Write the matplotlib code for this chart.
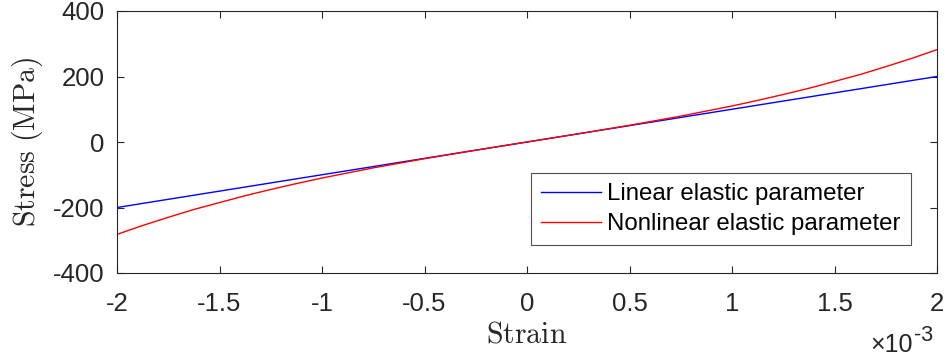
import matplotlib
matplotlib.use('Agg')
import matplotlib.pyplot as plt
import numpy as np

# strain (absolute) and stress in MPa
strain = [-2e-3, -1.875e-3, -1.75e-3, -1.625e-3, -1.5e-3, -1.375e-3, -1.25e-3, -1.125e-3,
          -1e-3, -0.75e-3, -0.5e-3, -0.25e-3, 0.0, 0.25e-3, 0.5e-3, 0.75e-3,
          1e-3, 1.125e-3, 1.25e-3, 1.375e-3, 1.5e-3, 1.625e-3, 1.75e-3, 1.875e-3, 2e-3]
stress_linear = [-200, -187.5, -175, -162.5, -150, -137.5, -125, -112.5,
                 -100, -75, -50, -25, 0, 25, 50, 75,
                 100, 112.5, 125, 137.5, 150, 162.5, 175, 187.5, 200]
stress_nonlinear = [-282, -255, -230, -206, -185, -164, -145, -127,
                    -110, -79, -51, -25, 0, 25, 51, 79,
                    110, 127, 145, 164, 185, 206, 230, 255, 282]

xticks = [-2e-3, -1.5e-3, -1e-3, -0.5e-3, 0, 0.5e-3, 1e-3, 1.5e-3, 2e-3]
xticklabels = ['-2', '-1.5', '-1', '-0.5', '0', '0.5', '1', '1.5', '2']
yticks = [-400, -200, 0, 200, 400]

plt.rcParams['font.family'] = 'Liberation Sans'
plt.rcParams['mathtext.fontset'] = 'cm'
plt.rcParams['axes.unicode_minus'] = False

grey = '#262626'
fig = plt.figure(figsize=(9.47, 3.59), dpi=100)
ax = fig.add_axes([117/947, 86/359, 820/947, 262/359])

ax.plot(strain, stress_linear, color='blue', lw=1.0, label='Linear elastic parameter')
ax.plot(strain, stress_nonlinear, color='red', lw=1.0, label='Nonlinear elastic parameter')

ax.set_xlim(-2e-3, 2e-3)
ax.set_ylim(-400, 400)
ax.set_xticks(xticks)
ax.set_xticklabels(xticklabels)
ax.set_yticks(yticks)
ax.tick_params(direction='in', length=5, width=0.8, colors=grey, labelsize=18.5,
               top=True, right=True)
ax.tick_params(axis='x', pad=14)
ax.tick_params(axis='y', pad=9)
for s in ax.spines.values():
    s.set_color(grey)
    s.set_linewidth(0.8)

ax.set_xlabel(r'$\mathrm{Strain}$', fontsize=21.5, color=grey, labelpad=3)
ax.set_ylabel(r'$\mathrm{Stress\ (MPa)}$', fontsize=21.5, color=grey, labelpad=6)

fig.text(870/947, 1 - 352/359, '×10', fontsize=18, color=grey, va='baseline')
fig.text(914/947, 1 - 341/359, '-3', fontsize=15.5, color=grey, va='baseline')

leg = ax.legend(loc='lower right', bbox_to_anchor=(0.968, 0.107), fontsize=17.25,
                frameon=True, fancybox=False, handlelength=2.5, handletextpad=0.25,
                borderpad=0.42, labelspacing=0.32, borderaxespad=0)
leg.get_frame().set_edgecolor(grey)
leg.get_frame().set_linewidth(0.8)

fig.savefig('out.png', dpi=100)
